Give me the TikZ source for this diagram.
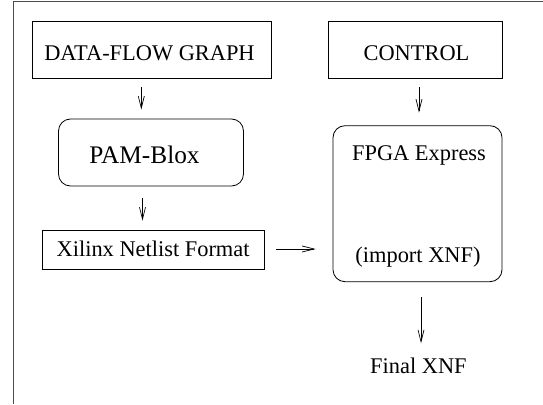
\documentclass[tikz,border=0pt]{standalone}
\usepackage{fontspec}
\setmainfont{Liberation Serif}
\usetikzlibrary{arrows.meta}
\begin{document}
\begin{tikzpicture}[x=1pt,y=-1pt,
  box/.style={draw, line width=0.8pt, inner sep=0pt, anchor=center},
  rbox/.style={box, rounded corners=12pt},
  lbl/.style={inner sep=0pt, anchor=base, font=\fontsize{22.4}{27}\selectfont},
  arr/.style={line width=0.7pt, -{Straight Barb[length=12pt,width=6pt,line width=0.7pt]}},
  frame/.style={line width=1pt, draw=black!70}]
\useasboundingbox (0,0) rectangle (543,404);
\draw[frame] (13,404) -- (13,2) -- (543,2);
% boxes
\node[box, minimum width=239, minimum height=57.5] (dfg) at (151.5,49.75) {};
\node[box, minimum width=174, minimum height=57.5] (ctl) at (415,49.75) {};
\node[rbox, minimum width=185, minimum height=67] (pam) at (151,152.5) {};
\node[rbox, minimum width=169, minimum height=156] (fpga) at (417.5,203.7) {};
\node[box, minimum width=222.4, minimum height=39.3] (xnf) at (153.6,249.7) {};
% texts
\node[lbl] (dfgt) at (149.5,60) {DATA-FLOW GRAPH};
\node[lbl] (ctlt) at (416.5,60) {CONTROL};
\node[lbl, font=\fontsize{25.3}{30}\selectfont] (pamt) at (144.5,163.3) {PAM-Blox};
\node[lbl] (fpga1) at (419,160) {FPGA Express};
\node[lbl] (fpga2) at (418,262) {(import XNF)};
\node[lbl] (xnft) at (153.1,256.7) {Xilinx Netlist Format};
\node[lbl] (final) at (418.4,373) {Final XNF};
% connectors
\draw[arr, shorten <=8.5pt, shorten >=9pt] (dfg.south -| 141.3,0) -- (pam.north -| 141.3,0);
\draw[arr, shorten <=8.5pt, shorten >=12.7pt] (ctl.south -| 419,0) -- (fpga.north -| 419,0);
\draw[arr, shorten <=12pt, shorten >=9pt] (pam.south -| 142.5,0) -- (xnf.north -| 142.5,0);
\draw[arr, shorten <=11pt, shorten >=17pt] (xnf.east |- 0,249) -- (fpga.west |- 0,249);
\draw[arr, shorten <=15.3pt, shorten >=14pt] (fpga.south -| 421,0) -- (final.north -| 421,0);
\end{tikzpicture}
\end{document}
